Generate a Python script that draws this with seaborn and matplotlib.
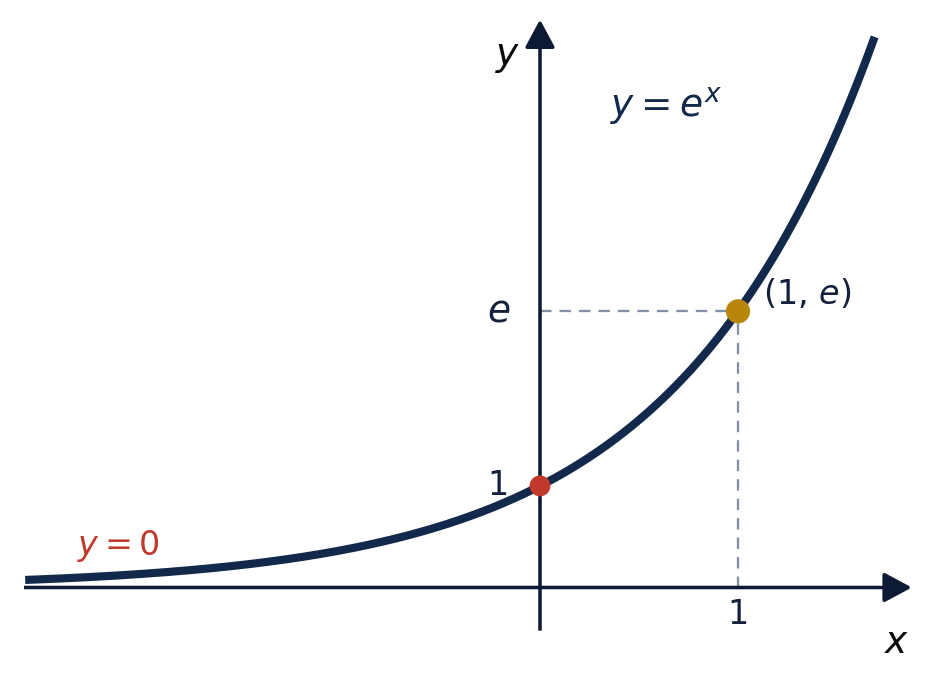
import numpy as np
import pandas as pd
import matplotlib
matplotlib.use("Agg")
import matplotlib.pyplot as plt
import seaborn as sns

# ---- data ----
curve_x_range = [-2.6, 1.69]         # domain of y = e^x drawn
point_names = ["(0, 1)", "(1, e)"]
point_x = [0.0, 1.0]
point_y = [1.0, float(np.e)]
point_colors = ["#c0392b", "#b8860b"]
x_axis_range = [-2.606, 1.878]
y_axis_range = [-0.425, 5.59]
tick_x_labels = ["1"]
tick_y_labels = ["1", "$e$"]

sns.set_theme(style="white")
plt.rcParams['font.family'] = ['DejaVu Sans']

NAVY = "#13294b"
AXIS = "#0c1a33"
DASH = "#8390a4"

fig = plt.figure(figsize=(933 / 150, 688 / 150), dpi=150)
ax = fig.add_axes([0, 0, 1, 1])
ax.set_xlim(-540 / 198, 393 / 198)
ax.set_ylim(-100.5 / 101.6, 587.5 / 101.6)
ax.axis("off")

# axes with arrows
arrow_style = "-|>,head_length=0.82,head_width=0.44"
ax.annotate("", xy=(x_axis_range[1], 0), xytext=(x_axis_range[0], 0),
            arrowprops=dict(arrowstyle=arrow_style, mutation_scale=14, lw=1.7,
                            color=AXIS, shrinkA=0, shrinkB=0, capstyle="butt"),
            zorder=2)
ax.annotate("", xy=(0, y_axis_range[1]), xytext=(0, y_axis_range[0]),
            arrowprops=dict(arrowstyle=arrow_style, mutation_scale=14, lw=1.7,
                            color=AXIS, shrinkA=0, shrinkB=0, capstyle="butt"),
            zorder=2)

# dashed guides
ax.plot([0, point_x[1]], [point_y[1], point_y[1]], ls=(0, (5, 3.5)), lw=1.1, color=DASH, zorder=1)
ax.plot([point_x[1], point_x[1]], [0, point_y[1]], ls=(0, (5, 3.5)), lw=1.1, color=DASH, zorder=1)

# curve
xs = np.linspace(curve_x_range[0], curve_x_range[1], 400)
df = pd.DataFrame({"x": xs, "y": np.exp(xs)})
sns.lineplot(data=df, x="x", y="y", color=NAVY, lw=3.9, ax=ax, zorder=3,
             solid_capstyle="butt")

# points
pts = pd.DataFrame({"x": point_x, "y": point_y, "name": point_names})
sns.scatterplot(data=pts.iloc[[0]], x="x", y="y", color=point_colors[0], s=100,
                edgecolor="none", ax=ax, zorder=4)
sns.scatterplot(data=pts.iloc[[1]], x="x", y="y", color=point_colors[1], s=135,
                edgecolor="none", ax=ax, zorder=4)

# labels
ax.text(-0.162, 5.22, "$y$", fontsize=18, color="#0a0a0a", ha="center", va="center")
ax.text(1.80, -0.55, "$x$", fontsize=18, color="#0a0a0a", ha="center", va="center")
ax.text(0.354, 4.62, "$y = e^x$", fontsize=18, color=NAVY, ha="left", va="baseline")
ax.text(-0.21, point_y[1], tick_y_labels[1], fontsize=18, color="#13213c", ha="center", va="center")
ax.text(-0.21, point_y[0], tick_y_labels[0], fontsize=16, color="#13213c", ha="center", va="center")
ax.text(point_x[1], -0.27, tick_x_labels[0], fontsize=16, color="#13213c", ha="center", va="center")
ax.text(1.126, 2.89, "(1, $e$)", fontsize=16, color="#13213c", ha="left", va="center")
ax.text(-2.338, 0.32, "$y = 0$", fontsize=16, color="#c0392b", ha="left", va="baseline")

fig.savefig("out.png", dpi=150)
